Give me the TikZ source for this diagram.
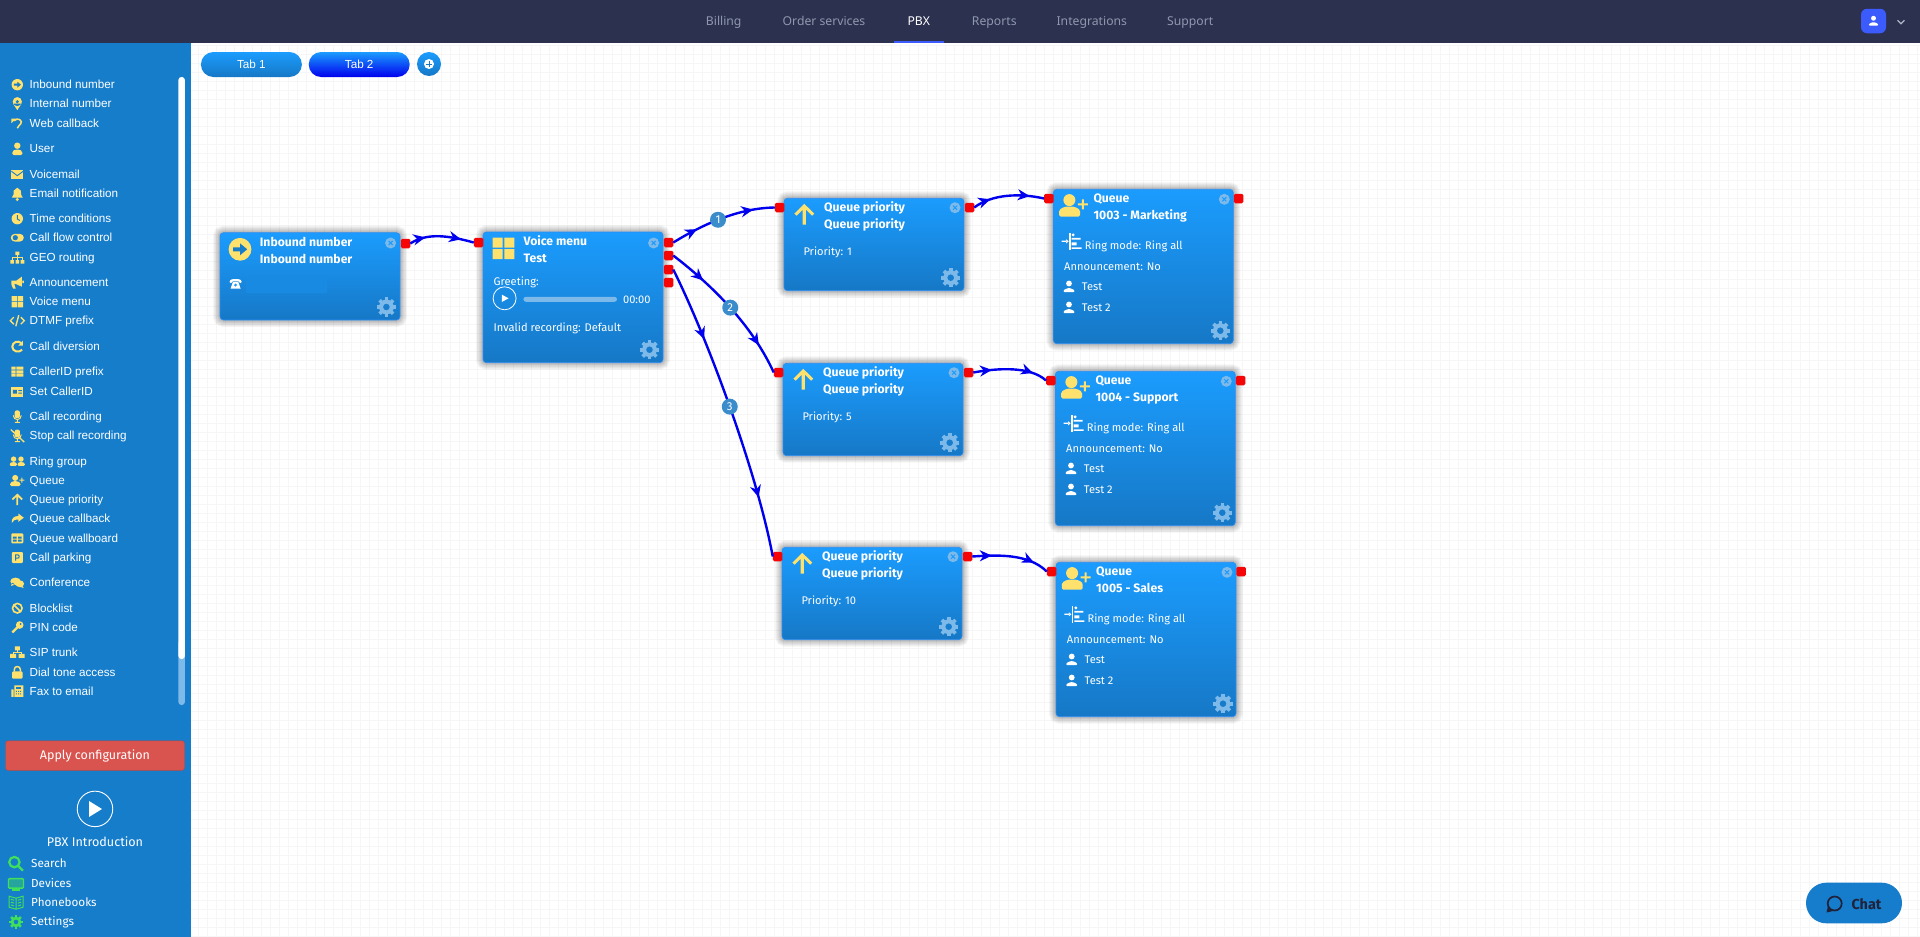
\documentclass[tikz,border=0pt]{standalone}
\usepackage{fontspec}
\setmainfont{Liberation Sans}
\newfontfamily\cardfont{Fira Sans}
\newfontfamily\navfont{Noto Sans}
\usetikzlibrary{arrows.meta,decorations.markings}
\definecolor{topbar}{HTML}{2C3150}
\definecolor{sideblue}{HTML}{167DCB}
\definecolor{cardtop}{HTML}{1B9CFE}
\definecolor{cardbot}{HTML}{1678C6}
\definecolor{cardline}{HTML}{2B8DF5}
\definecolor{iconyel}{HTML}{FFE16E}
\definecolor{softblue}{HTML}{7DB9E9}
\definecolor{portred}{HTML}{F50505}
\definecolor{flowblue}{HTML}{0000EE}
\definecolor{navgrey}{HTML}{8F98AD}
\definecolor{navblue}{HTML}{3B5BFD}
\definecolor{iconlime}{HTML}{3FE05A}
\definecolor{dotblue}{HTML}{3A8CCB}
\definecolor{applyred}{HTML}{D9534F}
\definecolor{gridgrey}{HTML}{F6F6F6}
\tikzset{
  shadowring/.style={preaction={draw=black, draw opacity=.04, line width=#1}},
  card/.style={anchor=north west, draw=cardline, line width=.7pt, rounded corners=3.5pt,
    shadowring=14pt, shadowring=12pt, shadowring=10pt, shadowring=8pt, shadowring=6pt, shadowring=4.5pt, shadowring=3pt,
    top color=cardtop, bottom color=cardbot, minimum width=180pt, inner sep=0pt, outer sep=0pt},
  port/.style={fill=portred, rounded corners=1.5pt, minimum width=9.5pt, minimum height=9.5pt, inner sep=0pt, outer sep=0pt},
  flowtip/.tip={Stealth[length=12pt,width=11pt,inset=3.8pt]},
  flowedge/.style={draw=flowblue, line width=2.4pt, postaction={decorate},
    decoration={markings, mark=at position .25 with {\arrow{flowtip}}, mark=at position .8 with {\arrow{flowtip}}}},
  numdot/.style={circle, fill=dotblue, text=white, inner sep=0pt, minimum size=16pt, font=\cardfont\fontsize{11.5}{12}\selectfont},
  cardtitle/.style={anchor=mid west, yshift=-1.2pt, text=white, inner sep=0pt, font=\cardfont\bfseries\fontsize{12.2}{14}\selectfont},
  cardtext/.style={anchor=mid west, yshift=-1.5pt, text=white, inner sep=0pt, font=\cardfont\fontsize{11.1}{14}\selectfont},
  menuitem/.style={anchor=mid west, yshift=-1.5pt, text=white, inner sep=0pt, font=\fontsize{11.7}{14}\selectfont},
  toolitem/.style={anchor=mid west, yshift=-1.3pt, text=white, inner sep=0pt, font=\cardfont\fontsize{11.7}{14}\selectfont},
  navitem/.style={anchor=base, text=navgrey, inner sep=0pt, font=\navfont\bfseries\fontsize{12.2}{14}\selectfont},
  tabpill/.style={rounded corners=12.5pt, minimum width=101pt, minimum height=25pt, inner sep=0pt, text=white, font=\fontsize{11.7}{14}\selectfont},
  pics/closemark/.style={code={\fill[softblue] (0,0) circle (5.5);
    \draw[cardtop, line width=1pt] (-2,-2) -- (2,2) (-2,2) -- (2,-2);}},
  pics/gearicon/.style={code={\fill[#1, even odd rule] (0,0) circle (7.4) circle (3.4);
    \foreach \ang in {0,45,...,315} {\fill[#1, rotate=\ang] (-1.8,-9.6) rectangle (1.8,-6.6);}}},
  pics/person/.style={code={\fill[white] (0,-3.2) circle (2.9);
    \fill[white, rounded corners=1pt] (-5.5,5.5) -- (-5.5,3.5) -- (-1.6,1.5) -- (1.6,1.5) -- (5.5,3.5) -- (5.5,5.5) -- cycle;}},
  pics/ringmark/.style={code={\fill[white] (-2.4,-8.5) rectangle (-1.2,8.5);
    \fill[white] (1.4,-6.4) circle (1.6) (0,-3.4) rectangle (9,-1.8) (0,1) rectangle (5,4) (0,6) rectangle (10,7.6);
    \fill[white] (-10,-.6) rectangle (-5,.6) (-5.5,-2) -- (-3,0) -- (-5.5,2) -- cycle;}},
  pics/phonemark/.style={code={\fill[white, rounded corners=1pt] (-6,-1) -- (-6,-3.5) -- (-3,-5) -- (3,-5) -- (6,-3.5) -- (6,-1) -- (3.5,-1) -- (3.5,-3) -- (-3.5,-3) -- (-3.5,-1) -- cycle;
    \fill[white] (-2.5,-2.5) -- (2.5,-2.5) -- (5,4.5) -- (-5,4.5) -- cycle;
    \fill[cardtop] (0,1) circle (1.6);}},
  % icons of the menu
  pics/iconin/.style={code={\fill[iconyel] (0,0) circle (5.7);
    \fill[sideblue] (-3.4,-1) -- (0,-1) -- (0,-3) -- (3.6,0) -- (0,3) -- (0,1) -- (-3.4,1) -- cycle;}},
  pics/iconpin/.style={code={\fill[iconyel] (0,-2) circle (4.6) (-4.2,0) -- (0,6.5) -- (4.2,0) -- cycle;
    \fill[sideblue] (0,-2) circle (1.7);}},
  pics/iconback/.style={code={\draw[iconyel, line width=1.5pt] (-3,-3) .. controls (0,-7) and (6,-3) .. (3.5,0) .. controls (2.5,1.5) and (1,2) .. (0,4.5);
    \fill[iconyel] (-6,-5) -- (-1.5,-5) -- (-6,-.5) -- cycle;}},
  pics/iconuser/.style={code={\fill[iconyel] (0,-3) circle (3.2);
    \fill[iconyel, rounded corners=1.5pt] (-5,6.5) -- (-5,2.5) -- (-2,.8) -- (2,.8) -- (5,2.5) -- (5,6.5) -- cycle;}},
  pics/iconmail/.style={code={\fill[iconyel] (-6,-4.5) rectangle (6,4.5);
    \draw[sideblue, line width=.9pt] (-6,-3.5) -- (0,1) -- (6,-3.5);}},
  pics/iconbell/.style={code={\fill[iconyel] (-5.5,4) -- (-3.8,1) -- (-3.6,-3) -- (0,-6) -- (3.6,-3) -- (3.8,1) -- (5.5,4) -- cycle (0,5.8) circle (1.6);}},
  pics/iconclock/.style={code={\fill[iconyel] (0,0) circle (5.7);
    \draw[sideblue, line width=1pt] (0,-3.5) -- (0,.3) -- (2.5,1.8);}},
  pics/icontoggle/.style={code={\fill[iconyel, rounded corners=3.8pt] (-6.5,-3.8) rectangle (6.5,3.8);
    \fill[sideblue] (-2,0) circle (2.6);}},
  pics/icongeo/.style={code={\fill[iconyel] (-2,-6) rectangle (2,-2.5) (-7,2.5) rectangle (-3.4,6) (-1.8,2.5) rectangle (1.8,6) (3.4,2.5) rectangle (7,6);
    \draw[iconyel, line width=.9pt] (0,-2.5) -- (0,2.5) (-5.2,2.5) -- (-5.2,.2) -- (5.2,.2) -- (5.2,2.5);}},
  pics/iconhorn/.style={code={\fill[iconyel] (-6,-2) -- (-1,-2) -- (4.5,-6) -- (4.5,4) -- (-1,1.5) -- (-3,1.5) -- (-1.5,6) -- (-4.2,6) -- (-6,1.5) -- cycle (5,-2) rectangle (6.5,.5);}},
  pics/icongrid/.style={code={\fill[iconyel] (-5.7,-5.7) rectangle (-.4,-.4) (.4,-5.7) rectangle (5.7,-.4) (-5.7,.4) rectangle (-.4,5.7) (.4,.4) rectangle (5.7,5.7);}},
  pics/iconcode/.style={code={\draw[iconyel, line width=1.4pt] (-3.5,-3.5) -- (-7,0) -- (-3.5,3.5) (3.5,-3.5) -- (7,0) -- (3.5,3.5) (1.5,-5.5) -- (-1.5,5.5);}},
  pics/iconredo/.style={code={\draw[iconyel, line width=2pt] (4.3,-3.3) .. controls (1,-7) and (-5,-4.5) .. (-5,0) .. controls (-5,5) and (2,6.5) .. (4.8,3);
    \fill[iconyel] (5.5,-6) -- (5.5,-1) -- (1,-1) -- cycle;}},
  pics/icontable/.style={code={\fill[iconyel] (-6,-5) rectangle (-1.6,-2) (-.9,-5) rectangle (6,-2) (-6,-1.4) rectangle (-1.6,1.4) (-.9,-1.4) rectangle (6,1.4) (-6,2) rectangle (-1.6,5) (-.9,2) rectangle (6,5);}},
  pics/iconcard/.style={code={\fill[iconyel] (-6,-5) rectangle (6,5);
    \fill[sideblue] (-4.5,-1.8) rectangle (-.5,2) (1,-1.5) rectangle (4.5,-.6) (1,.9) rectangle (4.5,1.8) ;}},
  pics/iconmic/.style={code={\fill[iconyel, rounded corners=2pt] (-2.6,-6) rectangle (2.6,1.8);
    \draw[iconyel, line width=1pt] (-4,-1) .. controls (-4,4.5) and (4,4.5) .. (4,-1) (0,3.5) -- (0,6) (-2.5,6) -- (2.5,6);}},
  pics/iconmicoff/.style={code={\fill[iconyel, rounded corners=2pt] (-2.6,-6) rectangle (2.6,1.8);
    \draw[iconyel, line width=1pt] (-4,-1) .. controls (-4,4.5) and (4,4.5) .. (4,-1) (0,3.5) -- (0,6) (-2.5,6) -- (2.5,6);
    \draw[iconyel, line width=1.3pt] (-6.5,-6) -- (7,6.5);}},
  pics/icongroup/.style={code={\fill[iconyel] (-3.7,-2.5) circle (2.7) (3.7,-2.5) circle (2.7);
    \fill[iconyel, rounded corners=1pt] (-7.5,4.2) -- (-7.5,1.5) -- (-5,.5) -- (-2.2,.5) -- (-.4,1.5) -- (-.4,4.2) -- cycle (.4,4.2) -- (.4,1.5) -- (2.2,.5) -- (5,.5) -- (7.5,1.5) -- (7.5,4.2) -- cycle;}},
  pics/iconqueue/.style={code={\fill[iconyel] (-2.1,-2.6) circle (3);
    \fill[iconyel, rounded corners=1.5pt] (-7.2,5.7) -- (-7.2,2.2) -- (-4.5,.7) -- (.5,.7) -- (3.2,2.2) -- (3.2,5.7) -- cycle;
    \fill[iconyel] (2.1,-1) rectangle (7.1,0) (4.1,-3) rectangle (5.1,2);}},
  pics/iconup/.style={code={\fill[iconyel] (0,-5.8) -- (5.5,-.4) -- (4.3,.8) -- (.9,-2.6) -- (.9,5.8) -- (-.9,5.8) -- (-.9,-2.6) -- (-4.3,.8) -- (-5.5,-.4) -- cycle;}},
  pics/iconshare/.style={code={\fill[iconyel] (1,-5) -- (6.5,-.8) -- (1,3.4) -- (1,1) .. controls (-2.5,1) and (-4.5,2) .. (-5.5,4.5) .. controls (-6,-.5) and (-3,-2.5) .. (1,-2.5) -- cycle;}},
  pics/iconboard/.style={code={\fill[iconyel, rounded corners=1pt] (-6,-5) rectangle (6,5);
    \fill[sideblue] (-4.4,-1.8) rectangle (-.7,.3) (.7,-1.8) rectangle (4.4,.3) (-4.4,1.2) rectangle (-.7,3.2) (.7,1.2) rectangle (4.4,3.2);}},
  pics/iconpark/.style={code={\fill[iconyel, rounded corners=1pt] (-5.5,-5.5) rectangle (5.5,5.5);
    \draw[sideblue, line width=1pt] (-1.6,3) -- (-1.6,-2.6) -- (.8,-2.6) -- (1.8,-1.6) -- (1.8,-.4) -- (.8,.6) -- (-1.6,.6);}},
  pics/iconchat/.style={code={\fill[iconyel] (-1.8,-1.2) ellipse (5.2 and 3.7) (-5,0) -- (-6.3,3.4) -- (-2,2) -- cycle (2.4,1.2) ellipse (4.4 and 3.4) (4.5,3) -- (6.5,5.5) -- (1.5,4) -- cycle;}},
  pics/iconban/.style={code={\draw[iconyel, line width=1.6pt] (0,0) circle (4.8) (-3.4,-3.4) -- (3.4,3.4);}},
  pics/iconkey/.style={code={\fill[iconyel] (2.4,-2.4) circle (3.8);
    \draw[iconyel, line width=2.2pt] (1,-1) -- (-5,5);
    \fill[sideblue] (3.4,-3.4) circle (1);}},
  pics/iconnet/.style={code={\fill[iconyel] (-2.5,-6) rectangle (2.5,-2) (-7.2,1.5) rectangle (-1.2,5.5) (1.2,1.5) rectangle (7.2,5.5);
    \draw[iconyel, line width=.9pt] (0,-2) -- (0,0) (-4.2,1.5) -- (-4.2,0) -- (4.2,0) -- (4.2,1.5);}},
  pics/iconlock/.style={code={\draw[iconyel, line width=1.5pt] (-3,-1) -- (-3,-3.2) .. controls (-3,-7) and (3,-7) .. (3,-3.2) -- (3,-1);
    \fill[iconyel, rounded corners=1pt] (-5.2,-1.2) rectangle (5.2,6);}},
  pics/iconfax/.style={code={\fill[iconyel] (-6,-2) rectangle (-3.6,5.5) (-3,-6) rectangle (6,5.5);
    \fill[sideblue] (-1.5,-4.5) rectangle (3.5,-2.2);
    \foreach \cx in {-1,1.2,3.4} {\fill[sideblue] (\cx-.5,-.6) rectangle (\cx+.5,.4) (\cx-.5,2) rectangle (\cx+.5,3);}}},
  pics/iconlens/.style={code={\draw[iconlime, line width=2.2pt] (-1.6,-1.6) circle (5.2) (2.2,2.2) -- (7,7);}},
  pics/iconscreen/.style={code={\draw[iconlime, line width=1.4pt, fill=sideblue!60!iconlime, rounded corners=1pt] (-7.5,-5) rectangle (7.5,4.5);
    \draw[iconlime, line width=1.4pt] (-4,6.3) -- (4,6.3);}},
  pics/iconbook/.style={code={\draw[iconlime, line width=1pt] (0,-4.5) -- (-7,-6.5) -- (-7,4.5) -- (0,6.5) -- (7,4.5) -- (7,-6.5) -- cycle (0,-4.5) -- (0,6.5)
    (-5.2,-3.4) -- (-1.8,-2.4) (-5.2,-.6) -- (-1.8,.4) (-5.2,2.2) -- (-1.8,3.2) (5.2,-3.4) -- (1.8,-2.4) (5.2,-.6) -- (1.8,.4) (5.2,2.2) -- (1.8,3.2);}}
}
\begin{document}
\begin{tikzpicture}[x=1pt,y=-1pt]
  \useasboundingbox (0,0) rectangle (1920,937);
  % Fundo e grade
  \fill[white] (0,0) rectangle (1920,937);
  \draw[gridgrey, line width=1pt, step=9pt] (189,45) grid (1920,937);

  % Barra superior
  \fill[topbar] (0,0) rectangle (1920,43);
  \foreach \xpos/\item in {723.7/Billing,824/Order services,994.3/Reports,1091.8/Integrations,1190.2/Support} {
    \node[navitem] (nav\item) at (\xpos,25.5) {\item};
  }
  \node[navitem, text=white] (navpbx) at (918.8,25.5) {PBX};
  \fill[navblue] (894,41.4) rectangle (944,43);
  \node[fill=navblue, rounded corners=6pt, minimum width=25pt, minimum height=24.5pt, inner sep=0pt] (account) at (1873.5,21) {};
  \pic[scale=.85] at (account) {person};
  \draw[navgrey!70!white, line width=1.3pt] (1897.5,20.3) -- (1901,23.8) -- (1904.5,20.3);

  % Menu lateral
  \fill[sideblue] (0,43) rectangle (191,937);
  \fill[softblue, rounded corners=3pt] (178.4,640) rectangle (184.9,705);
  \fill[white, rounded corners=3pt] (178.4,77) rectangle (184.9,659);
  \foreach \ypos/\icon/\item in {84.7/iconin/Inbound number,103.7/iconpin/Internal number,123.7/iconback/Web callback,
      148.7/iconuser/User,174.7/iconmail/Voicemail,193.7/iconbell/Email notification,218.7/iconclock/Time conditions,
      237.7/icontoggle/Call flow control,257.7/icongeo/GEO routing,282.7/iconhorn/Announcement,301.7/icongrid/Voice menu,
      320.7/iconcode/DTMF prefix,346.7/iconredo/Call diversion,371.7/icontable/CallerID prefix,391.7/iconcard/Set CallerID,
      416.4/iconmic/Call recording,435.6/iconmicoff/Stop call recording,461.6/icongroup/Ring group,480.5/iconqueue/Queue,
      499.3/iconup/Queue priority,518.5/iconshare/Queue callback,538.4/iconboard/Queue wallboard,557.5/iconpark/Call parking,
      582.5/iconchat/Conference,608.2/iconban/Blocklist,627.4/iconkey/PIN code,652.4/iconnet/SIP trunk,
      672.6/iconlock/Dial tone access,691.4/iconfax/Fax to email} {
    \node[menuitem] (m\icon) at (29.5,\ypos) {\item};
    \pic at (17.3,\ypos) {\icon};
  }
  \node[fill=applyred, draw=applyred!85!black, rounded corners=2.5pt, minimum width=179pt, minimum height=29.5pt, inner sep=0pt, text=white,
    font=\cardfont\fontsize{12.5}{14}\selectfont] (apply) at (95,755.6) {Apply configuration};
  \node[circle, draw=white, line width=.9pt, minimum size=35.5pt, inner sep=0pt] (intro) at (95,808.9) {};
  \fill[white] (89,801) -- (102,809) -- (89,817) -- cycle;
  \node[text=white, inner sep=0pt, font=\cardfont\fontsize{12.6}{14}\selectfont] (introtext) at (95,841.4) {PBX Introduction};
  \foreach \ypos/\icon/\item in {863.7/iconlens/Search,883.6/iconscreen/Devices,902.7/iconbook/Phonebooks} {
    \node[toolitem] (t\icon) at (31,\ypos) {\item};
    \pic at (16,\ypos) {\icon};
  }
  \node[toolitem] (tgear) at (31,921.9) {Settings};
  \pic[scale=.72] at (16,921.9) {gearicon=iconlime};

  % Abas
  \node[tabpill, top color=cardtop, bottom color=cardbot] (tab1) at (251.4,64.5) {Tab 1};
  \node[tabpill, top color=cardtop, bottom color=flowblue] (tab2) at (359.2,64.5) {Tab 2};
  \node[circle, top color=cardtop, bottom color=cardbot, minimum size=24pt, inner sep=0pt] (tabadd) at (429,64) {};
  \fill[white] (tabadd) circle (5);
  \draw[cardbot, line width=1pt] (425.8,64) -- (432.2,64) (429,60.8) -- (429,67.2);

  % Blocos
  \node[card, minimum height=87.3pt] (inb) at (220,232.7) {};
  \node[card, minimum height=130.7pt] (vm) at (483,232) {};
  \foreach \name/\xpos/\ypos/\prio in {qp1/784/198.3/1,qp2/783/363.3/5,qp3/782/547.3/10} {
    \node[card, minimum height=92.4pt] (\name) at (\xpos,\ypos) {};
    \node[cardtitle] (\name top) at ([shift={(40,9.4)}]\name.north west) {Queue priority};
    \node[cardtitle] (\name sub) at ([shift={(40,26.4)}]\name.north west) {Queue priority};
    \node[cardtext] (\name prio) at ([shift={(19.3,52.7)}]\name.north west) {Priority: \prio};
    \pic[scale=1.8] at ([shift={(20.3,16)}]\name.north west) {iconup};
    \pic at ([shift={(-9,9.4)}]\name.north east) {closemark};
    \pic at ([shift={(-13.3,-13)}]\name.south east) {gearicon=softblue};
    \node[port] (\name in) at ([xshift=-4.5pt,yshift=-9.2pt]\name.north west) {};
    \node[port] (\name out) at ([xshift=5.5pt,yshift=-9.2pt]\name.north east) {};
  }
  \foreach \name/\xpos/\ypos/\item in {q1/1053.3/189.3/1003 - Marketing,q2/1055.3/371.3/1004 - Support,q3/1056/562.3/1005 - Sales} {
    \node[card, minimum height=154.4pt] (\name) at (\xpos,\ypos) {};
    \pic[scale=2] at ([shift={(20.3,16)}]\name.north west) {iconqueue};
    \node[cardtitle] (\name top) at ([shift={(40,9.7)}]\name.north west) {Queue};
    \node[cardtitle] (\name sub) at ([shift={(40,26.4)}]\name.north west) {\item};
    \pic at ([shift={(18.4,52)}]\name.north west) {ringmark};
    \node[cardtext] (\name ring) at ([shift={(31.4,56)}]\name.north west) {Ring mode: Ring all};
    \node[cardtext] (\name ann) at ([shift={(10.7,77)}]\name.north west) {Announcement: No};
    \pic at ([shift={(15.7,97.4)}]\name.north west) {person};
    \node[cardtext] (\name ua) at ([shift={(28.4,97.4)}]\name.north west) {Test};
    \pic at ([shift={(15.7,118.4)}]\name.north west) {person};
    \node[cardtext] (\name ub) at ([shift={(28.4,118.4)}]\name.north west) {Test 2};
    \pic at ([shift={(-9,10)}]\name.north east) {closemark};
    \pic at ([shift={(-13,-13)}]\name.south east) {gearicon=softblue};
    \node[port] (\name in) at ([xshift=-4.5pt,yshift=-9.2pt]\name.north west) {};
    \node[port] (\name out) at ([xshift=5.2pt,yshift=-9.2pt]\name.north east) {};
  }

  % Textos dos blocos
  \pic[scale=2] at ([shift={(20,16.6)}]inb.north west) {iconin};
  \node[cardtitle] (inbtop) at ([shift={(39.7,10)}]inb.north west) {Inbound number};
  \node[cardtitle] (inbsub) at ([shift={(39.7,27)}]inb.north west) {Inbound number};
  \pic at ([shift={(15.6,51.3)}]inb.north west) {phonemark};
  \fill[cardtop!50!cardbot] (246,278) rectangle (327,292.7);
  \pic at ([shift={(-9.4,10.3)}]inb.north east) {closemark};
  \pic at ([shift={(-13.6,-13)}]inb.south east) {gearicon=softblue};
  \node[port] (inbout) at ([xshift=5.5pt,yshift=-10.8pt]inb.north east) {};

  \pic[scale=1.9] at ([shift={(20.5,16.4)}]vm.north west) {icongrid};
  \node[cardtitle] (vmtop) at ([shift={(40.4,9.7)}]vm.north west) {Voice menu};
  \node[cardtitle] (vmsub) at ([shift={(40.4,26.3)}]vm.north west) {Test};
  \node[cardtext] (vmgreet) at ([shift={(10.5,49.3)}]vm.north west) {Greeting:};
  \node[circle, draw=white, line width=.8pt, minimum size=23pt, inner sep=0pt] (vmplay) at (504.6,298.3) {};
  \fill[white] (501.8,294.6) -- (508.6,298.3) -- (501.8,302) -- cycle;
  \fill[softblue, rounded corners=2.5pt] (523.4,296.8) rectangle (617,301.8);
  \node[cardtext] (vmtime) at (622.9,299) {00:00};
  \node[cardtext] (vminvalid) at ([shift={(10.5,95.3)}]vm.north west) {Invalid recording: Default};
  \pic at ([shift={(-9.4,11)}]vm.north east) {closemark};
  \pic at ([shift={(-13.5,-13)}]vm.south east) {gearicon=softblue};
  \node[port] (vmin) at ([xshift=-4.5pt,yshift=-10.5pt]vm.north west) {};
  \foreach \i/\ypos in {1/242.5,2/255.5,3/269.5,4/282.5} {
    \node[port] (vmout\i) at (668.5,\ypos) {};
  }

  % Ligacoes
  \draw[flowedge] (inbout.east) .. controls (428,232) and (450,236) .. (vmin.west);
  \draw[flowedge] (vmout1.east) .. controls (697,228) and (735,208) .. node[numdot, pos=.5] (n1) {1} (qp1in.west);
  \draw[flowedge] (vmout2.east) .. controls (713,286) and (752,325) .. node[numdot, pos=.5] (n2) {2} (qp2in.west);
  \draw[flowedge] (vmout3.east) .. controls (707,337) and (757,472) .. node[numdot, pos=.5] (n3) {3} (qp3in.west);
  \draw[flowedge] (qp1out.east) .. controls (992,194) and (1020,193) .. (q1in.west);
  \draw[flowedge] (qp2out.east) .. controls (998,368) and (1030,366) .. (q2in.west);
  \draw[flowedge] (qp3out.east) .. controls (996,555) and (1028,553) .. (q3in.west);

  % Chat
  \node[fill=cardbot!90!cardtop, rounded corners=20.3pt, minimum width=96pt, minimum height=40.6pt, inner sep=0pt] (chat) at (1854,903) {};
  \node[text=topbar!70!black, inner sep=0pt, font=\cardfont\bfseries\fontsize{14.4}{14}\selectfont] (chatlabel) at (1866.5,904.5) {Chat};
  \draw[topbar!70!black, line width=1.7pt] (1834.7,903.5) circle (7);
  \fill[topbar!70!black] (1828,906) -- (1826.5,912.5) -- (1833,911) -- cycle;
\end{tikzpicture}
\end{document}
